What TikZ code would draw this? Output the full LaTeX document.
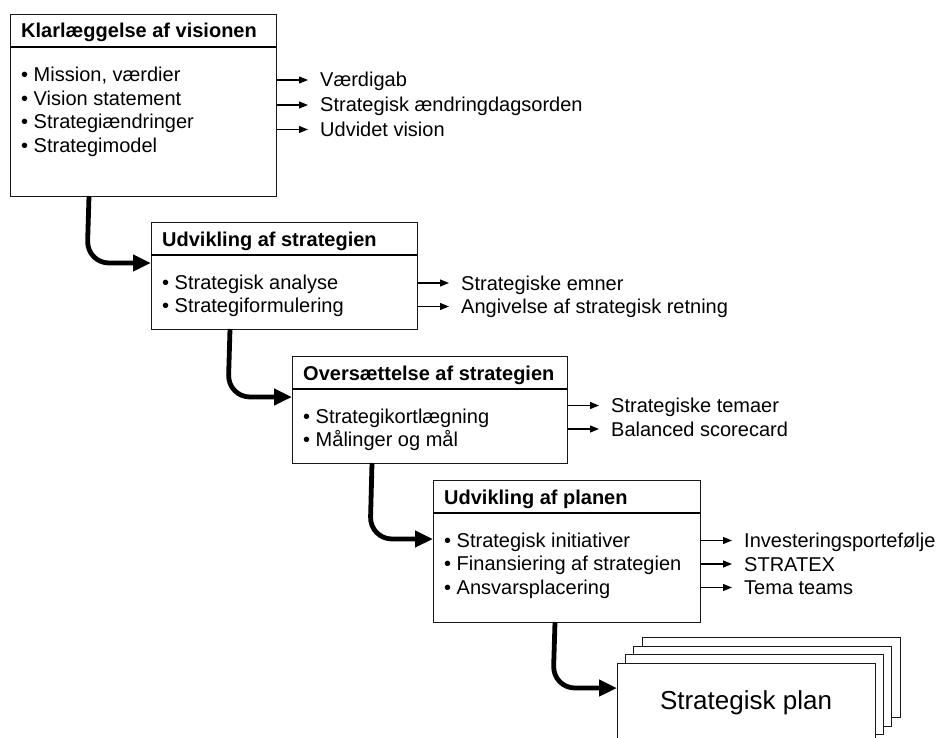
\documentclass[tikz,border=0pt]{standalone}
\usepackage{fontspec}
\setmainfont{Liberation Sans}
\usetikzlibrary{arrows.meta}
\begin{document}
\begin{tikzpicture}[x=1pt,y=-1pt,
  box/.style={draw=black!90, line width=1.4pt, fill=white, anchor=north west, inner sep=0pt},
  hline/.style={draw=black, line width=1.4pt},
  hdr/.style={anchor=west, font=\fontsize{20}{24}\selectfont\bfseries, inner sep=0pt, text height=14pt, text depth=0pt},
  itm/.style={anchor=west, font=\fontsize{20}{24}\selectfont, inner sep=0pt, text height=14pt, text depth=0pt},
  outarrow/.style={-{Triangle[length=9pt,width=7pt]}, line width=1.2pt},
  conn/.style={line width=4.8pt, rounded corners=22pt, -{Triangle[length=18pt,width=16pt]}},
]
\useasboundingbox (0,0) rectangle (939,738);

% ---------- Box 1
\node[box, minimum width=266pt, minimum height=182pt] (b1) at (10,14) {};
\draw[hline] (10,47) -- (276,47);
\node[hdr] (h1) at (21,31) {Klarlæggelse af visionen};
\node[itm] (i11) at (21,75) {• Mission, værdier};
\node[itm] (i12) at (21,98.5) {• Vision statement};
\node[itm] (i13) at (21,122) {• Strategiændringer};
\node[itm] (i14) at (21,145.5) {• Strategimodel};
\node[itm] (o11) at (320,80) {Værdigab};
\node[itm] (o12) at (320,105) {Strategisk ændringdagsorden};
\node[itm] (o13) at (320,129.5) {Udvidet vision};
\foreach \o in {o11,o12,o13} \draw[outarrow] (b1.east |- \o.west) -- ([xshift=-12pt]\o.west);

% ---------- Box 2
\node[box, minimum width=266pt, minimum height=107pt] (b2) at (151,222) {};
\draw[hline] (151,255) -- (417,255);
\node[hdr] (h2) at (162,239.5) {Udvikling af strategien};
\node[itm] (i21) at (162,282) {• Strategisk analyse};
\node[itm] (i22) at (162,305.5) {• Strategiformulering};
\node[itm] (o21) at (461,283) {Strategiske emner};
\node[itm] (o22) at (461,306.5) {Angivelse af strategisk retning};
\foreach \o in {o21,o22} \draw[outarrow] (b2.east |- \o.west) -- ([xshift=-12pt]\o.west);

% ---------- Box 3
\node[box, minimum width=275pt, minimum height=107pt] (b3) at (292,356) {};
\draw[hline] (292,389) -- (567,389);
\node[hdr] (h3) at (303,373.5) {Oversættelse af strategien};
\node[itm] (i31) at (303,416) {• Strategikortlægning};
\node[itm] (i32) at (303,439.5) {• Målinger og mål};
\node[itm] (o31) at (611,405.5) {Strategiske temaer};
\node[itm] (o32) at (611,429) {Balanced scorecard};
\foreach \o in {o31,o32} \draw[outarrow] (b3.east |- \o.west) -- ([xshift=-12pt]\o.west);

% ---------- Box 4
\node[box, minimum width=267pt, minimum height=142pt] (b4) at (433,480) {};
\draw[hline] (433,513) -- (700,513);
\node[hdr] (h4) at (444,497.5) {Udvikling af planen};
\node[itm] (i41) at (444,540) {• Strategisk initiativer};
\node[itm] (i42) at (444,563.5) {• Finansiering af strategien};
\node[itm] (i43) at (444,587) {• Ansvarsplacering};
\node[itm] (o41) at (744,540.5) {Investeringsportefølje};
\node[itm] (o42) at (744,564) {STRATEX};
\node[itm] (o43) at (744,587.5) {Tema teams};
\foreach \o in {o41,o42,o43} \draw[outarrow] (b4.east |- \o.west) -- ([xshift=-12pt]\o.west);

% ---------- Strategisk plan stack
\node[box, minimum width=258pt, minimum height=80pt] (p4) at (642,637) {};
\node[box, minimum width=258pt, minimum height=80pt] (p3) at (633,645.5) {};
\node[box, minimum width=258pt, minimum height=80pt] (p2) at (625,654) {};
\node[box, minimum width=258pt, minimum height=100pt] (p1) at (617,663) {};
\node[font=\fontsize{26}{30}\selectfont, inner sep=0pt] (pt) at (746,703) {Strategisk plan};

% ---------- Connectors
\coordinate (c1s) at (89,196);  \coordinate (c1e) at (151,263);
\coordinate (c2s) at (230,329); \coordinate (c2e) at (292,397);
\coordinate (c3s) at (372,463); \coordinate (c3e) at (433,539);
\coordinate (c4s) at (555,622); \coordinate (c4e) at (617,688);
\draw[conn] (c1s) -- (87,263) -- (c1e);
\draw[conn] (c2s) -- (228,397) -- (c2e);
\draw[conn] (c3s) -- (370,539) -- (c3e);
\draw[conn] (c4s) -- (553,688) -- (c4e);
\end{tikzpicture}
\end{document}
